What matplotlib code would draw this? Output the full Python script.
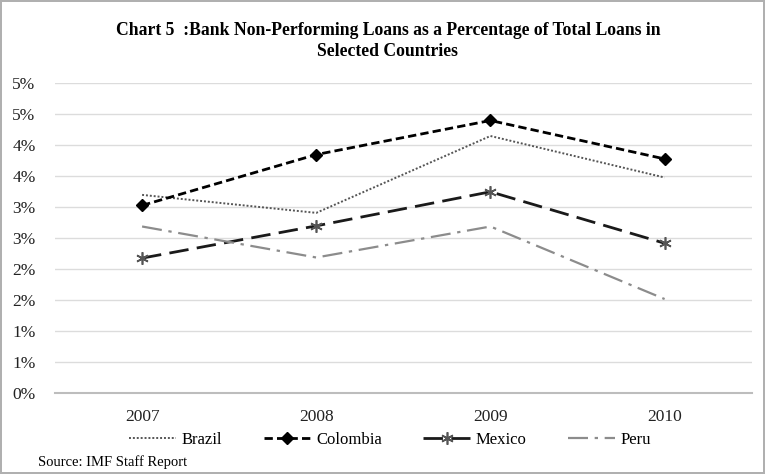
import matplotlib
matplotlib.use("Agg")
import matplotlib.pyplot as plt

years = ["2007", "2008", "2009", "2010"]
brazil = [3.20, 2.91, 4.15, 3.48]
colombia = [3.03, 3.85, 4.40, 3.78]
mexico = [2.18, 2.70, 3.25, 2.42]
peru = [2.69, 2.19, 2.69, 1.52]
ytick_vals = [0, 0.5, 1.0, 1.5, 2.0, 2.5, 3.0, 3.5, 4.0, 4.5, 5.0]
ytick_labels = ["0%", "1%", "1%", "2%", "2%", "3%", "3%", "4%", "4%", "5%", "5%"]

plt.rcParams['font.family'] = ['Liberation Serif', 'DejaVu Serif']

fig = plt.figure(figsize=(7.65, 4.74), dpi=100)
fig.patch.set_facecolor('white')
fig.patch.set_edgecolor('#b0b0b0')
fig.patch.set_linewidth(1.5)

ax = fig.add_axes([0.0719, 0.1703, 0.9107, 0.654])
x = list(range(len(years)))

ax.plot(x, brazil, color='#555555', lw=1.4, dashes=(1, 1), label='Brazil')
ax.plot(x, colombia, color='black', lw=2.0, dashes=(3, 1.5), marker='D', ms=6,
        markerfacecolor='black', markeredgecolor='black', label='Colombia')
ax.plot(x, mexico, color='#1a1a1a', lw=2.0, dashes=(7, 3), marker=(6, 2, 0), ms=9,
        markeredgewidth=1.2, markeredgecolor='#555555', label='Mexico')
ax.plot(x, peru, color='#8c8c8c', lw=1.6, dashes=(9, 3, 1.5, 3), label='Peru')

ax.set_xlim(-0.5, 3.5)
ax.set_ylim(0, 5.0)
ax.set_xticks(x)
ax.set_xticklabels(years, fontsize=12.5)
ax.set_yticks(ytick_vals)
ax.set_yticklabels(ytick_labels, fontsize=12.5)
ax.tick_params(axis='both', length=0, colors='#222222')
ax.tick_params(axis='y', pad=14)
ax.tick_params(axis='x', pad=11)
ax.grid(axis='y', color='#dcdcdc', lw=1)
ax.set_axisbelow(True)
for s in ['top', 'right', 'left']:
    ax.spines[s].set_visible(False)
ax.spines['bottom'].set_color('#bdbdbd')
ax.spines['bottom'].set_linewidth(1.5)

fig.text(0.507, 0.913, "Chart 5  :Bank Non-Performing Loans as a Percentage of Total Loans in\nSelected Countries",
         ha='center', va='center', fontsize=12.7, fontweight='bold', linespacing=1.3)

handles, labels = ax.get_legend_handles_labels()
fig.legend(handles, labels, loc='center', bbox_to_anchor=(0.51, 0.072), ncol=4,
           frameon=False, fontsize=12, handlelength=2.8, columnspacing=2.5, handletextpad=0.35)

fig.text(0.05, 0.025, "Source: IMF Staff Report", fontsize=10.5, ha='left', va='center')

fig.savefig("out.png", dpi=100)
